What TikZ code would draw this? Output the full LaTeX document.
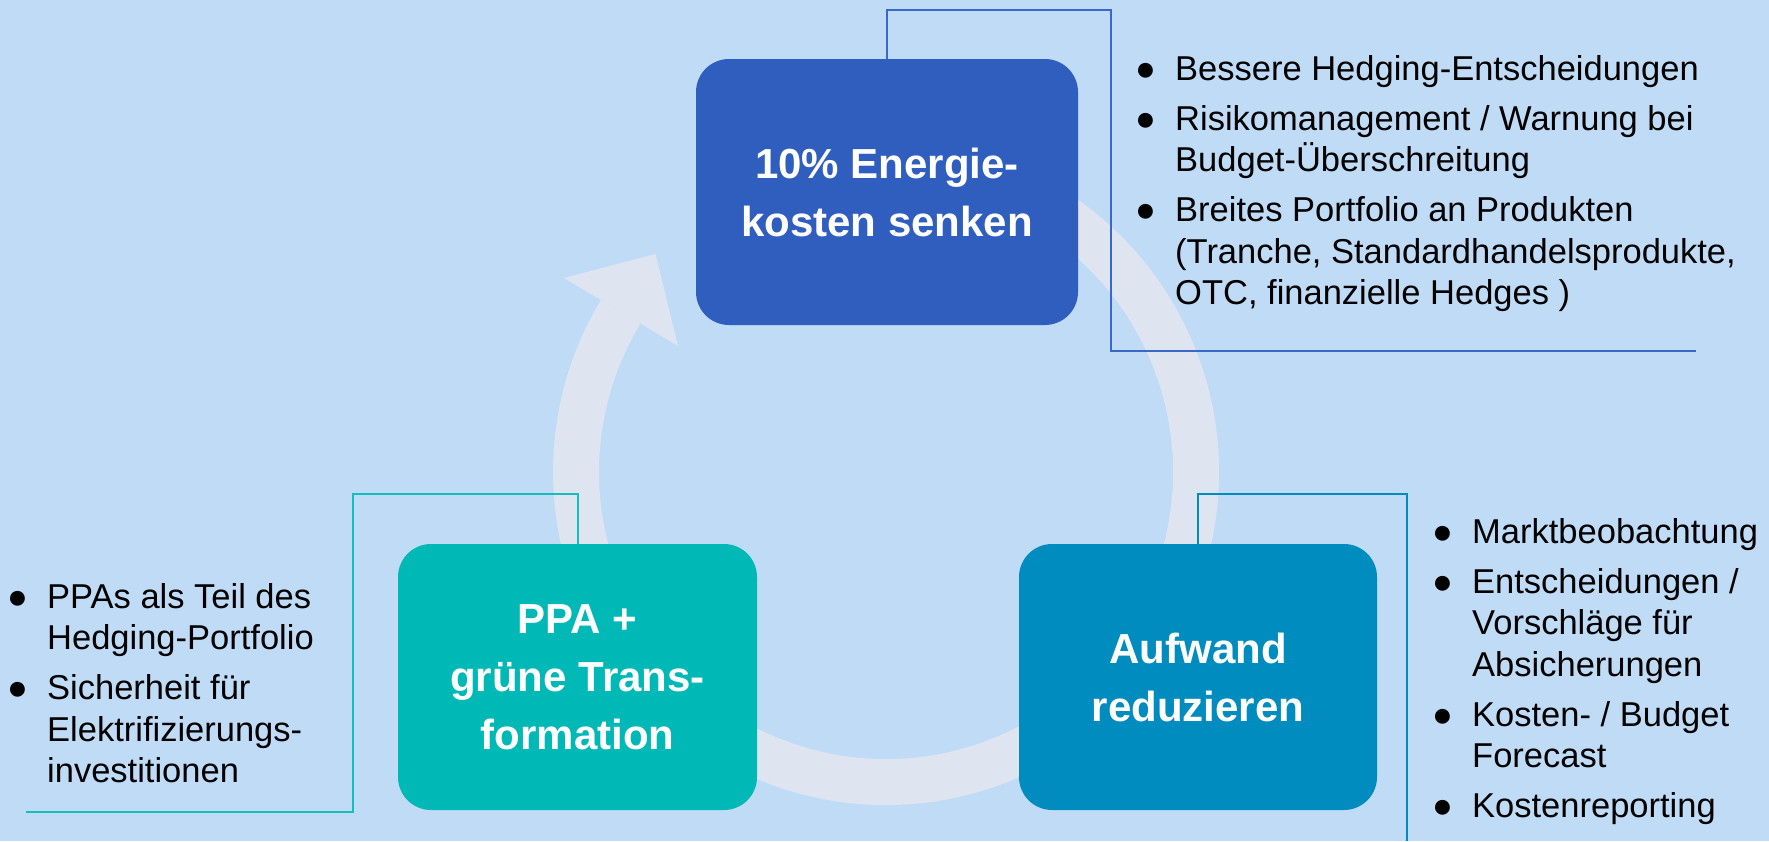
\documentclass[tikz,border=0pt]{standalone}
\usepackage{fontspec}
\setmainfont{Liberation Sans}
\definecolor{bgc}{HTML}{C0DBF6}
\definecolor{ringc}{HTML}{DFE4F1}
\definecolor{topc}{HTML}{2F5EBE}
\definecolor{leftc}{HTML}{00B8B5}
\definecolor{rightc}{HTML}{008CBE}
\definecolor{toplinec}{HTML}{3A68C8}
\definecolor{leftlinec}{HTML}{16BDBA}
\newcommand{\bitem}[1]{\par\hangindent=40pt\hangafter=1\noindent\makebox[40pt][l]{●}#1}
\newcommand{\blist}[1]{\parbox[t]{700pt}{\fontsize{34.5}{41.5}\selectfont\parindent=0pt\parskip=8.5pt #1}}
\begin{document}
\begin{tikzpicture}[x=1pt,y=-1pt,
  box/.style={rectangle, rounded corners=33pt, minimum height=266pt, inner sep=0pt,
    text=white, align=center, font=\fontsize{42}{58}\selectfont\bfseries},
  listnode/.style={anchor=base west, inner sep=0pt, text=black},
  conn/.style={line width=2pt},
  ringstyle/.style={draw=ringc, line width=46pt}]
\useasboundingbox (0,0) rectangle (1769,841);
\fill[bgc] (0,0) rectangle (1769,841);
% ring arrow
\coordinate (c) at (886,472);
\draw[ringstyle] ([shift={(-70:310)}]c) arc[start angle=-70, end angle=211.1, radius=310];
\coordinate (aw1) at (564,278);
\coordinate (atip) at (655.5,254);
\coordinate (aw2) at (678,346);
\fill[ringc] (aw1) -- (atip) -- (aw2) -- cycle;
% boxes
\node[box, fill=topc, minimum width=382pt] (tb) at (887,192) {10\% Energie-\\kosten senken};
\node[box, fill=leftc, minimum width=359pt] (lb) at (577.5,677) {PPA +\\grüne Trans-\\formation};
\node[box, fill=rightc, minimum width=358pt] (rb) at (1198,677) {Aufwand\\reduzieren};
% connectors
\coordinate (tc1) at (1111,10);
\coordinate (tend) at (1696,351);
\draw[conn, toplinec] (tb.north) |- (tc1) |- (tend);
\coordinate (lc1) at (353,494);
\coordinate (lend) at (26,812);
\draw[conn, leftlinec] (lb.north) |- (lc1) |- (lend);
\coordinate (rc1) at (1407,494);
\coordinate (rend) at (1407,841);
\draw[conn, rightc] (rb.north) |- (rc1) -- (rend);
% lists
\node[listnode] (tl) at (1135,80) {\blist{%
\bitem{Bessere Hedging-Entscheidungen}
\bitem{Risikomanagement / Warnung bei\newline Budget-Überschreitung}
\bitem{Breites Portfolio an Produkten\newline (Tranche, Standardhandelsprodukte,\newline OTC, finanzielle Hedges )}}};
\node[listnode] (ll) at (7,608) {\blist{%
\bitem{PPAs als Teil des\newline Hedging-Portfolio}
\bitem{Sicherheit für\newline Elektrifizierungs-\newline investitionen}}};
\node[listnode] (rl) at (1432,543) {\blist{%
\bitem{Marktbeobachtung}
\bitem{Entscheidungen /\newline Vorschläge für\newline Absicherungen}
\bitem{Kosten- / Budget\newline Forecast}
\bitem{Kostenreporting}}};
\end{tikzpicture}
\end{document}
